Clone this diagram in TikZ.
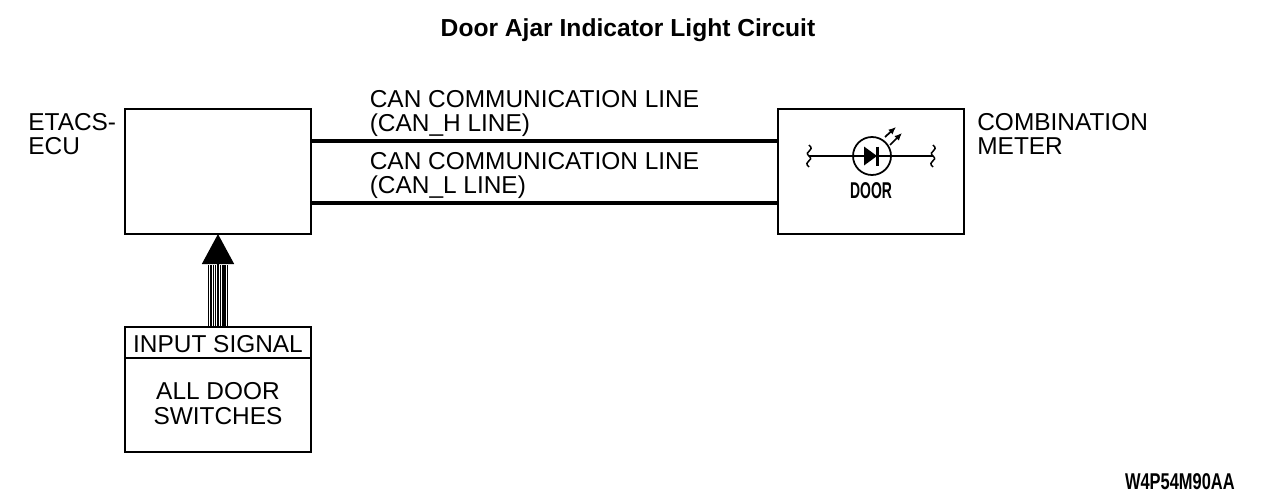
\documentclass[tikz,border=0pt]{standalone}
\usepackage{fontspec}
\setmainfont{Liberation Sans}
\usetikzlibrary{positioning,arrows.meta}
\tikzset{
  unitbox/.style={draw,line width=0.035cm,minimum width=3.72cm,minimum height=2.5cm,outer sep=0pt,inner sep=0pt},
  labeltext/.style={inner sep=0pt,align=left,font=\fontsize{13.9}{13.7}\selectfont},
  centertext/.style={inner sep=0pt,align=center,font=\fontsize{13.9}{14.2}\selectfont},
  busline/.style={line width=0.08cm},
}
\begin{document}
\begin{tikzpicture}
  \useasboundingbox (0,0) rectangle (25.28,9.92);
  \node [font=\fontsize{14}{15}\selectfont\bfseries,inner sep=0pt] (title) at (12.56,9.32) {Door Ajar Indicator Light Circuit};

  \node [unitbox] (ecu) at (4.36,6.49) {};
  \node [unitbox, right=9.34cm of ecu] (meter) {};
  \node [unitbox, below=1.86cm of ecu] (input) {};

  \node [labeltext, anchor=north west] (ecuname) at (0.56,7.66) {ETACS-\\ECU};
  \node [labeltext, anchor=north west] (metername) at (19.54,7.66) {COMBINATION\\METER};
  \node [labeltext, anchor=north west] (canh) at (7.39,8.12) {CAN COMMUNICATION LINE\\(CAN\_H LINE)};
  \node [labeltext, anchor=north west] (canl) at (7.39,6.88) {CAN COMMUNICATION LINE\\(CAN\_L LINE)};

  \draw [busline] ([yshift=0.61cm]ecu.east) -- ([yshift=0.61cm]meter.west);
  \draw [busline] ([yshift=-0.63cm]ecu.east) -- ([yshift=-0.63cm]meter.west);

  % input box
  \draw [line width=0.03cm] ([yshift=-0.62cm]input.north west) -- ([yshift=-0.62cm]input.north east);
  \node [centertext, below=0.17cm of input.north] (inputhead) {INPUT SIGNAL};
  \node [centertext, below=1.1cm of input.north] (inputname) {ALL DOOR\\SWITCHES};

  % bundle arrow
  \foreach \dx in {-0.19,-0.14,-0.095,-0.05,0.05,0.095,0.14,0.19}
    \draw [line width=0.03cm] ([xshift=\dx cm]input.north) -- ([xshift=\dx cm,yshift=-0.62cm]ecu.south);
  \draw [-{Triangle[length=0.6cm,width=0.64cm]},line width=0.03cm] (input.north) -- (ecu.south);

  % indicator lamp
  \node [circle,draw,line width=0.035cm,minimum size=0.76cm,inner sep=0pt] (lamp) at (17.44,6.8) {};
  \coordinate (wireleft) at (16.18,6.8);
  \coordinate (wireright) at (18.66,6.8);
  \draw [line width=0.04cm] (wireleft) -- (wireright);
  \foreach \w in {wireleft,wireright}
    \draw [line width=0.03cm] ([yshift=0.22cm]\w) .. controls ([xshift=0.14cm,yshift=0.1cm]\w) and ([xshift=-0.12cm,yshift=0.1cm]\w) .. (\w) .. controls ([xshift=0.12cm,yshift=-0.1cm]\w) and ([xshift=-0.14cm,yshift=-0.1cm]\w) .. ([yshift=-0.22cm]\w);
  \fill ([xshift=-0.16cm,yshift=0.19cm]lamp.center) -- ([xshift=0.1cm]lamp.center) -- ([xshift=-0.16cm,yshift=-0.19cm]lamp.center) -- cycle;
  \draw [line width=0.05cm] ([xshift=0.11cm,yshift=0.19cm]lamp.center) -- ([xshift=0.11cm,yshift=-0.19cm]lamp.center);
  \draw [-{Latex[length=0.15cm,width=0.13cm]},line width=0.035cm] (17.7,7.18) -- (17.92,7.38);
  \draw [-{Latex[length=0.15cm,width=0.13cm]},line width=0.035cm] (17.8,7.02) -- (18.04,7.26);
  \node [font=\fontsize{13}{14}\selectfont\bfseries,xscale=0.61,inner sep=0pt] (door) at (17.42,6.1) {DOOR};

  \node [font=\fontsize{13}{14}\selectfont\bfseries,xscale=0.72,inner sep=0pt,anchor=east] (code) at (24.7,0.28) {W4P54M90AA};
\end{tikzpicture}
\end{document}
